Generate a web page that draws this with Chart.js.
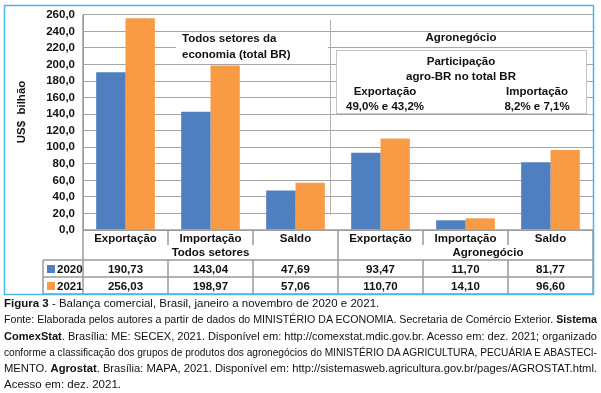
<!DOCTYPE html>
<html>
<head>
<meta charset="utf-8">
<script src="https://cdn.jsdelivr.net/npm/chart.js@4"></script>
<style>
body { margin: 0; background: #fff; width: 601px; height: 393px; overflow: hidden; position: relative; }
#wrap { position: absolute; left: 0; top: 0; width: 601px; height: 296px; }
#caption { position: absolute; left: 4px; top: 295px; width: 593px; font: 11.5px "Liberation Sans", sans-serif; color: #111; line-height: 16.3px; }
#caption div { white-space: nowrap; }
#caption .j { text-align: justify; text-align-last: justify; }
#caption span { display: inline-block; transform-origin: 0 50%; }
</style>
</head>
<body>
<div id="wrap"><canvas id="chart" width="601" height="296"></canvas></div>
<div id="caption">
  <div><span><b>Figura 3</b> - Balança comercial, Brasil, janeiro a novembro de 2020 e 2021.</span></div>
  <div class="j"><span>Fonte: Elaborada pelos autores a partir de dados do MINISTÉRIO DA ECONOMIA. Secretaria de Comércio Exterior. <b>Sistema</b></span></div>
  <div class="j"><span><b>ComexStat</b>. Brasília: ME: SECEX, 2021. Disponível em: http://comexstat.mdic.gov.br. Acesso em: dez. 2021; organizado</span></div>
  <div class="j"><span>conforme a classificação dos grupos de produtos dos agronegócios do MINISTÉRIO DA AGRICULTURA, PECUÁRIA E ABASTECI-</span></div>
  <div class="j"><span>MENTO. <b>Agrostat</b>. Brasília: MAPA, 2021. Disponível em: http://sistemasweb.agricultura.gov.br/pages/AGROSTAT.html.</span></div>
  <div><span>Acesso em: dez. 2021.</span></div>
</div>
<script>
// Data
const categories = ['Exportação', 'Importação', 'Saldo', 'Exportação', 'Importação', 'Saldo'];
const groups = ['Todos setores', 'Agronegócio'];
const years = ['2020', '2021'];
const values2020 = [190.73, 143.04, 47.69, 93.47, 11.70, 81.77];
const values2021 = [256.03, 198.97, 57.06, 110.70, 14.10, 96.60];
const yMax = 260;
const yStep = 20;

const blue = '#4F7FBF';
const orange = '#F99B45';
const lineGray = '#A6A6A6';
const font = '"Liberation Sans", Arial, sans-serif';

function fmt(v, d) {
    return v.toFixed(d).replace('.', ',');
}

// Fit caption lines: justify when short, squeeze when too long
const captionWidth = 593;
document.querySelectorAll('#caption .j span').forEach(span => {
    const w = span.getBoundingClientRect().width;
    if (w > captionWidth) {
        span.style.transform = 'scaleX(' + (captionWidth / w) + ')';
    } else {
        span.style.display = 'inline';
    }
});

// Table under the plot, notes and frame
const tablePlugin = {
    id: 'tableAndNotes',
    beforeDraw(chart) {
        const ctx = chart.ctx;
        ctx.save();
        ctx.fillStyle = '#fff';
        ctx.fillRect(0, 0, chart.width, chart.height);
        ctx.restore();
    },
    afterDraw(chart) {
        const ctx = chart.ctx;
        const area = chart.chartArea;
        const xs = chart.scales.x;
        const step = (area.right - area.left) / categories.length;
        const edges = categories.map((c, i) => area.left + i * step).concat(area.right);
        const top = area.bottom;
        const rowLabel = top + 15, rowGroup = top + 30, row1 = top + 47, row2 = top + 64;
        const legLeft = 43;

        ctx.save();
        ctx.strokeStyle = '#9A9A9A';
        ctx.lineWidth = 1.5;
        const line = (x1, y1, x2, y2) => {
            ctx.beginPath(); ctx.moveTo(x1, y1); ctx.lineTo(x2, y2); ctx.stroke();
        };
        line(area.left, top, area.right, top);
        line(legLeft, rowGroup, area.right, rowGroup);
        line(legLeft, row1, area.right, row1);
        line(legLeft, row2, area.right, row2);
        line(legLeft, rowGroup, legLeft, row2);
        line(area.left, area.top, area.left, row2);
        line(edges[3], top, edges[3], row2);
        line(area.right, top, area.right, row2);
        [1, 2, 4, 5].forEach(i => {
            line(edges[i], top, edges[i], rowLabel);
            line(edges[i], rowGroup, edges[i], row2);
        });

        // separator between the two panels
        ctx.strokeStyle = '#B0B0B0';
        ctx.lineWidth = 1;
        line(330.5, 20, 330.5, 215);

        // text
        ctx.fillStyle = '#111';
        ctx.textBaseline = 'middle';
        ctx.textAlign = 'center';
        ctx.font = 'bold 11.5px ' + font;
        categories.forEach((c, i) => {
            const cx = xs.getPixelForValue(i);
            ctx.fillText(c, cx, top + 8.5);
            ctx.fillText(fmt(values2020[i], 2), cx, row1 - 7.5);
            ctx.fillText(fmt(values2021[i], 2), cx, row2 - 7.5);
        });
        ctx.fillText(groups[0], (edges[0] + edges[3]) / 2, rowGroup - 7);
        ctx.fillText(groups[1], 488, rowGroup - 7);

        // legend keys
        ctx.textAlign = 'left';
        [[blue, years[0], row1], [orange, years[1], row2]].forEach(([col, label, y]) => {
            ctx.fillStyle = col;
            ctx.fillRect(47, y - 12, 8, 8);
            ctx.fillStyle = '#111';
            ctx.fillText(label, 57, y - 7.5);
        });

        // note boxes
        ctx.fillStyle = '#fff';
        ctx.fillRect(176, 33, 152, 27);
        ctx.fillStyle = '#111';
        ctx.textAlign = 'left';
        ctx.fillText('Todos setores da', 182, 39);
        ctx.fillText('economia (total BR)', 182, 55);

        ctx.textAlign = 'center';
        ctx.fillText('Agronegócio', 461, 38);
        ctx.fillStyle = '#fff';
        ctx.fillRect(336, 50, 250, 63);
        ctx.strokeStyle = '#C4C4C4';
        ctx.lineWidth = 1;
        ctx.strokeRect(336.5, 50.5, 250, 63);
        ctx.fillStyle = '#111';
        ctx.fillText('Participação', 461, 62);
        ctx.fillText('agro-BR no total BR', 461, 77);
        ctx.fillText('Exportação', 385, 92);
        ctx.fillText('49,0% e 43,2%', 385, 107);
        ctx.fillText('Importação', 537, 92);
        ctx.fillText('8,2% e 7,1%', 537, 107);

        // y axis title
        ctx.save();
        ctx.translate(22, 112);
        ctx.rotate(-Math.PI / 2);
        ctx.fillText('US$  bilhão', 0, 0);
        ctx.restore();

        // outer frame
        ctx.strokeStyle = '#4BB7E6';
        ctx.lineWidth = 1.5;
        ctx.strokeRect(4.5, 5.5, 589, 289);
        ctx.restore();
    }
};

new Chart(document.getElementById('chart'), {
    type: 'bar',
    data: {
        labels: categories,
        datasets: [
            { label: years[0], data: values2020, backgroundColor: blue },
            { label: years[1], data: values2021, backgroundColor: orange }
        ]
    },
    options: {
        responsive: false,
        animation: false,
        layout: { padding: { top: 13, right: 8, bottom: 66, left: 0 } },
        datasets: { bar: { categoryPercentage: 0.69, barPercentage: 1.0 } },
        plugins: {
            legend: { display: false },
            tooltip: { enabled: false }
        },
        scales: {
            x: { display: false },
            y: {
                min: 0,
                max: yMax,
                afterFit(scale) { scale.width = 83; },
                grid: { color: lineGray, drawTicks: false },
                border: { color: '#9A9A9A' },
                ticks: {
                    stepSize: yStep,
                    autoSkip: false,
                    padding: 8,
                    color: '#111',
                    font: { family: font, size: 11.5, weight: 'bold' },
                    callback: v => fmt(v, 1)
                }
            }
        }
    },
    plugins: [tablePlugin]
});
</script>
</body>
</html>
